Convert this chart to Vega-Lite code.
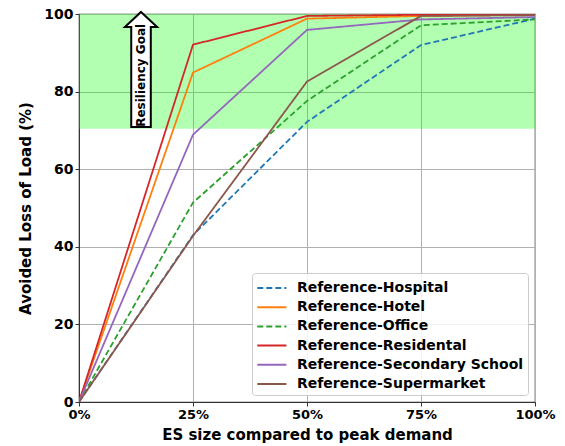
{
  "$schema": "https://vega.github.io/schema/vega-lite/v6.json",
  "width": 456,
  "height": 388,
  "autosize": {"type": "none"},
  "padding": {"left": 79, "top": 14, "right": 30, "bottom": 44},
  "config": {
    "font": "DejaVu Sans",
    "view": {"stroke": "#333333", "strokeWidth": 1.2},
    "axis": {
      "labelFont": "DejaVu Sans",
      "labelFontWeight": "bold",
      "labelFontSize": 14,
      "labelColor": "#000000",
      "titleFont": "DejaVu Sans",
      "titleFontWeight": "bold",
      "titleFontSize": 15,
      "titleColor": "#000000",
      "gridColor": "#b0b0b0",
      "gridWidth": 1,
      "domainColor": "#333333",
      "tickColor": "#333333",
      "tickSize": 4,
      "labelPadding": 2,
      "labelFlush": false
    }
  },
  "datasets": {
    "goalBand": [{"lo": 70.4, "hi": 100}],
    "goalArrow": [{"x": 13.6, "y": 85.7, "yText": 84.2, "label": "Resiliency Goal"}],
    "curves": [
      {"series": "Reference-Hospital", "x": 0, "y": 0},
      {"series": "Reference-Hospital", "x": 25, "y": 43.0},
      {"series": "Reference-Hospital", "x": 50, "y": 72.2},
      {"series": "Reference-Hospital", "x": 75, "y": 92.0},
      {"series": "Reference-Hospital", "x": 100, "y": 98.8},
      {"series": "Reference-Hotel", "x": 0, "y": 0},
      {"series": "Reference-Hotel", "x": 25, "y": 84.9},
      {"series": "Reference-Hotel", "x": 50, "y": 98.8},
      {"series": "Reference-Hotel", "x": 75, "y": 99.5},
      {"series": "Reference-Hotel", "x": 100, "y": 99.8},
      {"series": "Reference-Office", "x": 0, "y": 0},
      {"series": "Reference-Office", "x": 25, "y": 51.4},
      {"series": "Reference-Office", "x": 50, "y": 77.6},
      {"series": "Reference-Office", "x": 75, "y": 97.1},
      {"series": "Reference-Office", "x": 100, "y": 98.6},
      {"series": "Reference-Residental", "x": 0, "y": 0},
      {"series": "Reference-Residental", "x": 25, "y": 92.1},
      {"series": "Reference-Residental", "x": 50, "y": 99.5},
      {"series": "Reference-Residental", "x": 75, "y": 99.8},
      {"series": "Reference-Residental", "x": 100, "y": 100},
      {"series": "Reference-Secondary School", "x": 0, "y": 0},
      {"series": "Reference-Secondary School", "x": 25, "y": 68.9},
      {"series": "Reference-Secondary School", "x": 50, "y": 95.9},
      {"series": "Reference-Secondary School", "x": 75, "y": 98.6},
      {"series": "Reference-Secondary School", "x": 100, "y": 99.2},
      {"series": "Reference-Supermarket", "x": 0, "y": 0},
      {"series": "Reference-Supermarket", "x": 25, "y": 42.8},
      {"series": "Reference-Supermarket", "x": 50, "y": 82.6},
      {"series": "Reference-Supermarket", "x": 75, "y": 99.5},
      {"series": "Reference-Supermarket", "x": 100, "y": 99.7}
    ]
  },
  "layer": [
    {
      "data": {"name": "goalBand"},
      "mark": {"type": "rect", "color": "#00ff00", "opacity": 0.3},
      "encoding": {
        "y": {"field": "lo", "type": "quantitative"},
        "y2": {"field": "hi"}
      }
    },
    {
      "data": {"name": "curves"},
      "mark": {"type": "line", "strokeWidth": 1.8, "clip": true},
      "encoding": {
        "x": {
          "field": "x",
          "type": "quantitative",
          "scale": {"domain": [0, 100], "nice": false},
          "axis": {
            "values": [0, 25, 50, 75, 100],
            "labelExpr": "datum.value + '%'",
            "title": "ES size compared to peak demand",
            "labelFontSize": 13,
            "titlePadding": 6
          }
        },
        "y": {
          "field": "y",
          "type": "quantitative",
          "scale": {"domain": [0, 100], "nice": false},
          "axis": {
            "values": [0, 20, 40, 60, 80, 100],
            "title": "Avoided Loss of Load (%)",
            "titlePadding": 10
          }
        },
        "color": {
          "field": "series",
          "type": "nominal",
          "scale": {
            "domain": ["Reference-Hospital", "Reference-Hotel", "Reference-Office", "Reference-Residental", "Reference-Secondary School", "Reference-Supermarket"],
            "range": ["#1f77b4", "#ff7f0e", "#2ca02c", "#d62728", "#9467bd", "#8c564b"]
          },
          "legend": {
            "title": null,
            "orient": "none",
            "legendX": 173,
            "legendY": 259,
            "padding": 4,
            "fillColor": "rgba(255,255,255,0.85)",
            "strokeColor": "#cccccc",
            "cornerRadius": 3,
            "symbolType": "M-1,0 L2,0",
            "symbolSize": 376,
            "symbolStrokeWidth": 2,
            "symbolFillColor": "transparent",
            "labelFont": "DejaVu Sans",
            "labelFontWeight": "bold",
            "labelFontSize": 14,
            "labelColor": "#000000",
            "labelOffset": 19,
            "labelLimit": 400,
            "rowPadding": 1.2
          }
        },
        "strokeDash": {
          "field": "series",
          "type": "nominal",
          "scale": {
            "domain": ["Reference-Hospital", "Reference-Hotel", "Reference-Office", "Reference-Residental", "Reference-Secondary School", "Reference-Supermarket"],
            "range": [[6, 3], [1, 0], [6, 3], [1, 0], [1, 0], [1, 0]]
          },
          "legend": null
        }
      }
    },
    {
      "data": {"name": "goalArrow"},
      "mark": {
        "type": "point",
        "shape": "M0,-1 L0.28,-0.74 L0.17,-0.74 L0.17,1 L-0.17,1 L-0.17,-0.74 L-0.28,-0.74 Z",
        "filled": true,
        "fill": "#ffffff",
        "stroke": "#000000",
        "strokeWidth": 2,
        "opacity": 1,
        "size": 13225
      },
      "encoding": {
        "x": {"field": "x", "type": "quantitative"},
        "y": {"field": "y", "type": "quantitative"}
      }
    },
    {
      "data": {"name": "goalArrow"},
      "mark": {
        "type": "text",
        "angle": 270,
        "font": "DejaVu Sans",
        "fontWeight": "bold",
        "fontSize": 12,
        "color": "#000000",
        "align": "center",
        "baseline": "middle"
      },
      "encoding": {
        "x": {"field": "x", "type": "quantitative"},
        "y": {"field": "yText", "type": "quantitative"},
        "text": {"field": "label"}
      }
    }
  ]
}
